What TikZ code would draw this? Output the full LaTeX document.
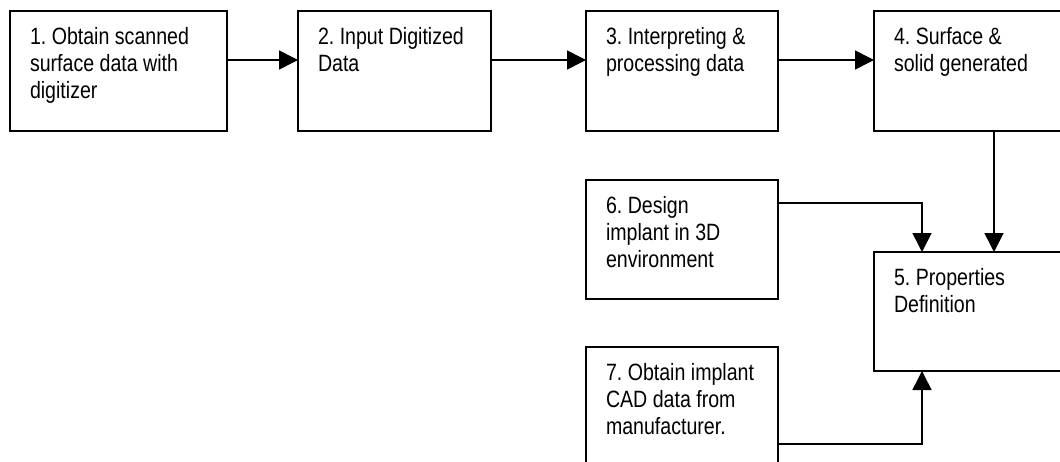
\documentclass[tikz,border=0pt]{standalone}
\usepackage{fontspec}
\setmainfont[FakeStretch=0.83]{Liberation Sans}
\usetikzlibrary{arrows.meta,calc}
\frenchspacing

% text of a process box: fixed height and width, set flush left from the top
\newcommand\boxbody[3]{\begin{minipage}[c][#1pt][t]{#2pt}\raggedright
  \fontsize{23.6pt}{27.4pt}\selectfont #3\end{minipage}}

\begin{document}
\begin{tikzpicture}[x=1pt, y=-1pt,
  stepbox/.style={draw, rectangle, line width=1.6pt, anchor=north west,
    inner xsep=20pt, inner ysep=16pt, outer sep=0pt},
  flow/.style={line width=1.6pt, -{Triangle[length=19pt, width=19pt]}}]

\useasboundingbox (0,0) rectangle (1060,461);
\clip (0,0) rectangle (1060,461);
\fill[white] (0,0) rectangle (1060,461);

% top row
\node[stepbox] (n1) at (10,11)  {\boxbody{88}{177}{1. Obtain scanned\\surface data with\\digitizer}};
\node[stepbox] (n2) at (298,11) {\boxbody{88}{153}{2. Input Digitized\\Data}};
\node[stepbox] (n3) at (586,11) {\boxbody{88}{152}{3. Interpreting \&\\processing data}};
\node[stepbox] (n4) at (874,11) {\boxbody{88}{170}{4. Surface \&\\solid generated}};

% lower part
\node[stepbox] (n6) at (586,180) {\boxbody{87}{152}{6. Design\\implant in 3D\\environment}};
\node[stepbox] (n5) at (874,252) {\boxbody{87}{170}{5. Properties\\Definition}};
\node[stepbox] (n7) at (586,347) {\boxbody{96}{152}{7. Obtain implant\\CAD data from\\manufacturer.}};

% connectors
\draw[flow] ([yshift=11pt]n1.east) -- ([yshift=11pt]n2.west);
\draw[flow] ([yshift=11pt]n2.east) -- ([yshift=11pt]n3.west);
\draw[flow] ([yshift=11pt]n3.east) -- ([yshift=11pt]n4.west);
\draw[flow] ([xshift=120pt]n4.south west) -- ([xshift=120pt]n5.north west);
\draw[flow] ([yshift=-23pt]n6.north east) -| ([xshift=48pt]n5.north west);
\draw[flow] ([yshift=-97pt]n7.north east) -| ([xshift=48pt]n5.south west);
\end{tikzpicture}
\end{document}
